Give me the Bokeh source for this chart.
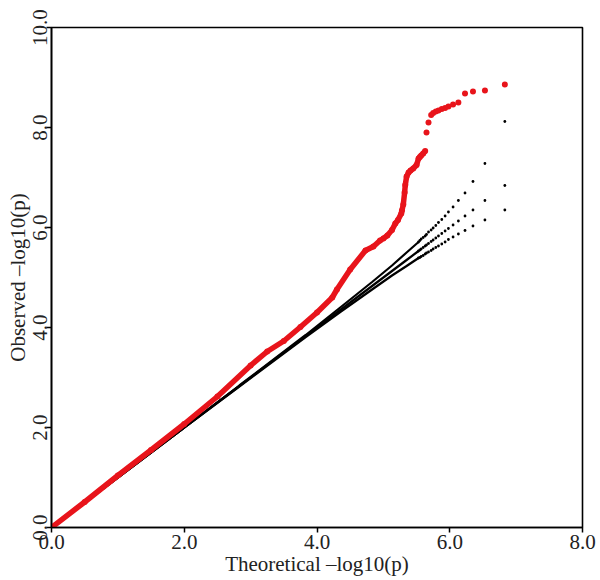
from bokeh.plotting import figure
from bokeh.models import FixedTicker, PrintfTickFormatter, Range1d
from bokeh.embed import file_html
from bokeh.resources import INLINE

# ---- data ----
x_ticks = [0, 2, 4, 6, 8]
y_ticks = [0, 2, 4, 6, 8, 10]

# dense body of the null lines (expected and 90% band)
body_x        = [0.0, 1.0, 2.0, 2.83, 3.83, 4.35, 4.83, 5.13, 5.35, 5.53]
upper_body    = [0.0, 1.0, 2.0, 2.84, 3.85, 4.40, 4.91, 5.24, 5.50, 5.71]
expected_body = [0.0, 1.0, 2.0, 2.83, 3.83, 4.35, 4.83, 5.13, 5.35, 5.53]
lower_body    = [0.0, 1.0, 2.0, 2.82, 3.81, 4.31, 4.76, 5.04, 5.23, 5.39]

# sparse tail of the null lines
tail_x        = [6.83, 6.53, 6.35, 6.23, 6.13, 6.05, 5.98, 5.93, 5.88, 5.83,
                 5.79, 5.75, 5.72, 5.68, 5.65, 5.63, 5.60, 5.57, 5.55, 5.53]
upper_tail    = [8.12, 7.28, 6.92, 6.69, 6.54, 6.41, 6.31, 6.23, 6.16, 6.10,
                 6.04, 5.99, 5.95, 5.91, 5.86, 5.83, 5.80, 5.77, 5.74, 5.71]
expected_tail = [6.84, 6.54, 6.35, 6.23, 6.13, 6.05, 5.98, 5.93, 5.88, 5.83,
                 5.79, 5.75, 5.72, 5.68, 5.65, 5.63, 5.60, 5.57, 5.55, 5.53]
lower_tail    = [6.35, 6.15, 6.03, 5.94, 5.87, 5.81, 5.76, 5.71, 5.67, 5.63,
                 5.60, 5.57, 5.54, 5.51, 5.49, 5.47, 5.44, 5.42, 5.40, 5.39]

# observed p-values (red)
obs_body_x = [0.0, 0.5, 1.0, 1.5, 2.0, 2.5, 3.0, 3.25, 3.5, 3.75, 4.0, 4.23,
              4.30, 4.5, 4.73, 4.85, 4.95]
obs_body_y = [0.0, 0.51, 1.04, 1.55, 2.07, 2.62, 3.24, 3.52, 3.73, 4.01, 4.30,
              4.60, 4.76, 5.16, 5.54, 5.62, 5.74]
obs_tail_x = [6.83, 6.53, 6.35, 6.23, 6.13, 6.05, 5.98, 5.93, 5.88, 5.83,
              5.79, 5.75, 5.72, 5.68, 5.65, 5.63, 5.60, 5.57, 5.55, 5.53,
              5.50, 5.45, 5.41, 5.38, 5.35, 5.33, 5.32, 5.30, 5.28, 5.27,
              5.22, 5.18, 5.13, 5.06, 5.00]
obs_tail_y = [8.86, 8.74, 8.72, 8.68, 8.50, 8.46, 8.42, 8.39, 8.37, 8.34,
              8.32, 8.29, 8.25, 8.10, 7.90, 7.53, 7.48, 7.44, 7.41, 7.38,
              7.25, 7.18, 7.14, 7.10, 7.02, 6.85, 6.70, 6.46, 6.34, 6.28,
              6.15, 6.08, 5.95, 5.84, 5.78]

RED = "#e8141b"
FONT = "Liberation Serif"

p = figure(width=598, height=578, output_backend="svg", toolbar_location=None,
           x_range=Range1d(0, 8), y_range=Range1d(0, 10),
           min_border_left=51, min_border_right=16, min_border_top=27,
           min_border_bottom=51)
p.grid.visible = False
p.background_fill_color = "white"
p.border_fill_color = "white"
p.outline_line_color = "black"
p.outline_line_width = 1.6

for ax in (p.xaxis[0], p.yaxis[0]):
    ax.minor_tick_line_color = None
    ax.major_tick_in = 0
    ax.major_tick_out = 5
    ax.major_tick_line_width = 1.5
    ax.axis_line_width = 1.6
    ax.major_label_text_font = FONT
    ax.major_label_text_font_size = "21px"
    ax.major_label_text_color = "#222222"
    ax.axis_label_text_font = FONT
    ax.axis_label_text_font_size = "21px"
    ax.axis_label_text_font_style = "normal"
    ax.axis_label_text_color = "#222222"
    ax.formatter = PrintfTickFormatter(format="%.1f")

p.xaxis.ticker = FixedTicker(ticks=x_ticks)
p.yaxis.ticker = FixedTicker(ticks=y_ticks)
p.xaxis.axis_label = "Theoretical –log10(p)"
p.yaxis.axis_label = "Observed –log10(p)"
p.xaxis.major_label_standoff = 2
p.xaxis.axis_label_standoff = 0
p.yaxis.major_label_standoff = 0
p.yaxis.axis_label_standoff = 0
p.yaxis.major_label_orientation = "vertical"

# null lines
for ys_body, ys_tail in ((upper_body, upper_tail), (expected_body, expected_tail),
                         (lower_body, lower_tail)):
    p.line(body_x, ys_body, line_color="black", line_width=2.2)
    p.scatter(tail_x, ys_tail, size=2.8, fill_color="black", line_color=None)

# observed
line_x = obs_body_x + obs_tail_x[15:][::-1]
line_y = obs_body_y + obs_tail_y[15:][::-1]
p.line(line_x, line_y, line_color=RED, line_width=5.5)
p.scatter(obs_body_x, obs_body_y, size=6, fill_color=RED, line_color=None)
p.scatter(obs_tail_x, obs_tail_y, size=6, fill_color=RED, line_color=None)

open("out.html", "w").write(file_html(p, INLINE))
